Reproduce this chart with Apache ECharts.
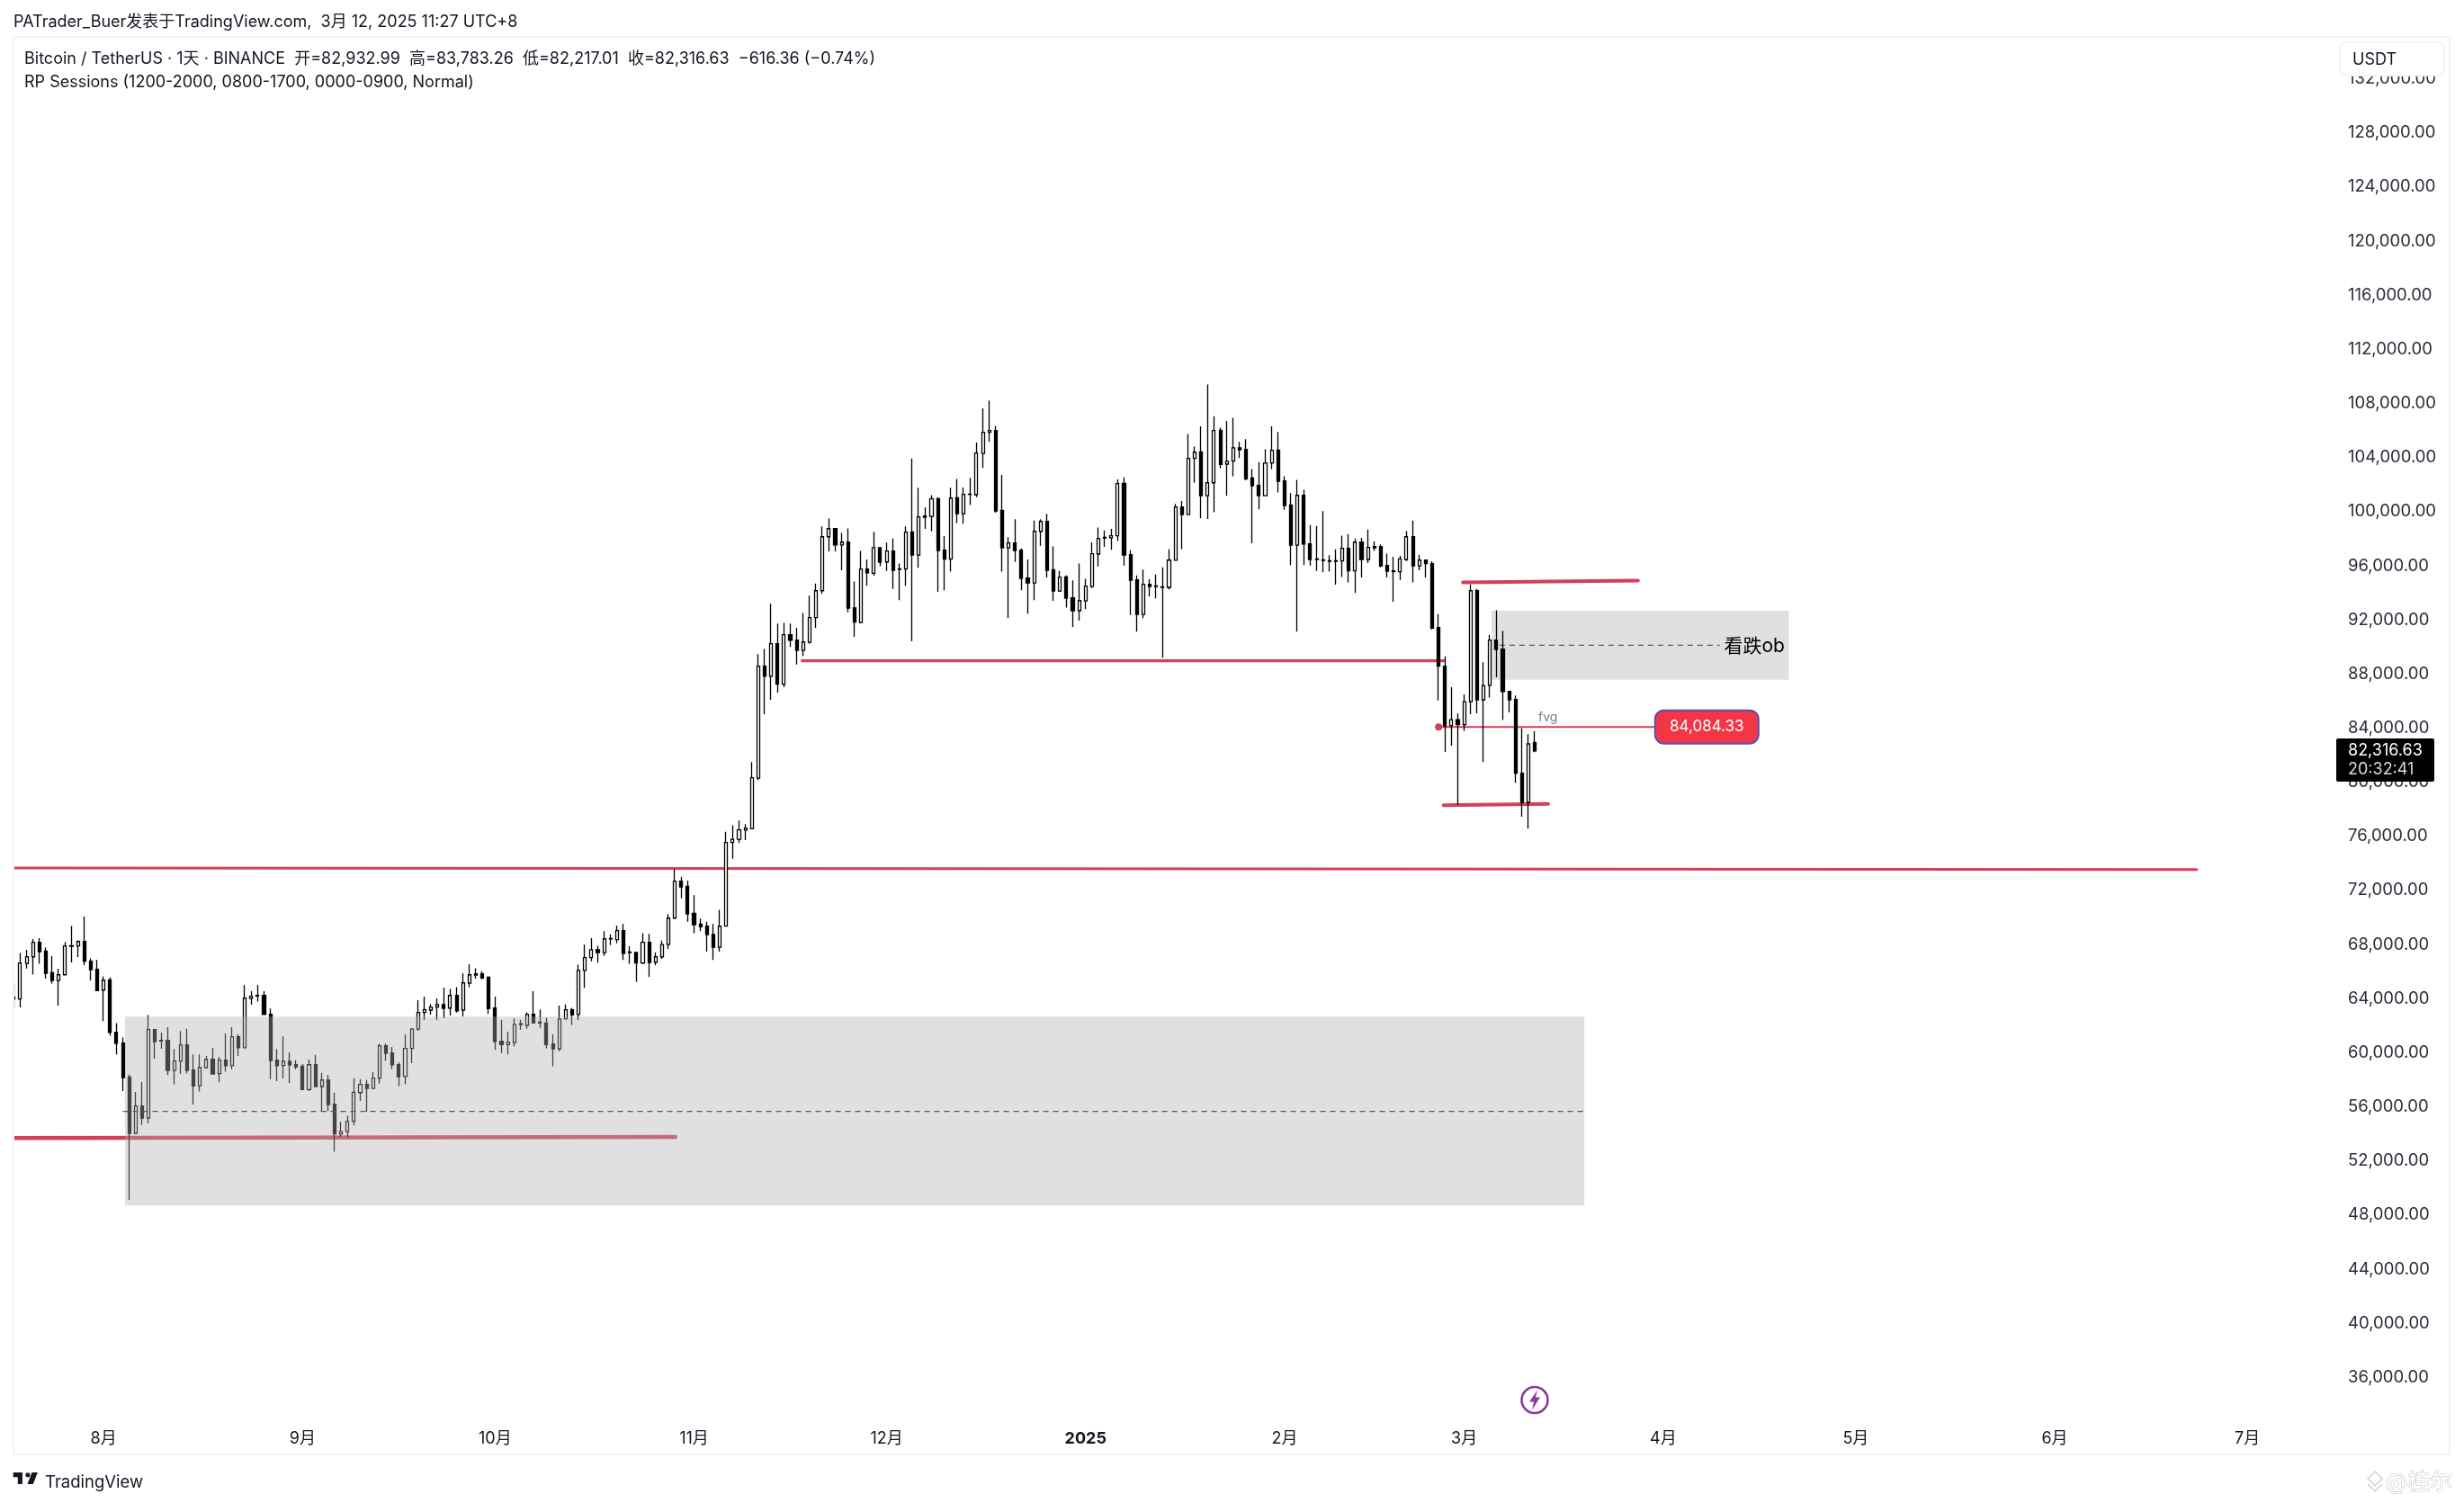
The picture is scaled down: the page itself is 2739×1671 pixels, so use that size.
<!DOCTYPE html>
<html><head><meta charset="utf-8">
<style>html,body{margin:0;padding:0;background:#fff}#c{width:2739px;height:1671px}</style>
<script src="https://cdn.jsdelivr.net/npm/echarts@6/dist/echarts.min.js"></script>
</head><body><div id="c"></div>
<script>
const firstDate='2024-07-18T00:00:00Z';
const opens=[64120,63970,66600,67090,68160,67510,65920,65340,65760,67870,
67890,68220,66760,66160,64630,65390,61510,60710,58210,54040,
56060,55170,61710,60910,60910,58690,59380,60580,58720,57560,
58890,59510,58450,59450,59050,61180,60360,64010,64190,64230,
62840,59450,59050,59360,59110,59000,57280,59110,57500,57980,
56190,54000,54170,54930,57050,57650,57360,58120,60510,59980,
59110,58250,60310,61750,62970,63150,63370,63550,63300,64230,
63150,65140,65830,65830,65590,63300,60840,60600,60750,62080,
62020,62840,62260,62190,60640,60290,62500,63170,62820,66090,
67030,67620,67400,68420,68360,69020,67400,67420,66630,68160,
66690,67090,68000,69950,72680,72300,70300,69510,69350,68750,
67800,69360,75540,75780,76450,76560,80300,88570,87820,90230,
87240,90900,90500,89740,90340,92160,94150,98140,98740,97540,
97740,92890,91800,95750,95440,97340,96280,97080,95730,95750,
98500,96790,99670,99650,100960,97150,96480,101020,99850,101270,
101250,104300,105860,105990,100090,97320,97680,97150,95090,94730,
98540,99270,95700,94130,95170,93620,92670,93400,94460,96860,
98050,98060,98210,102090,96810,94950,92400,94620,94460,94440,
94400,96400,100340,99780,103930,104410,101180,102130,106010,103510,
103730,104720,104590,102490,101930,101180,103590,104550,102270,100490,
97520,101200,97610,96460,96440,96370,96330,96350,97280,95620,
97740,96460,97410,97410,96020,95620,95550,96460,98140,95990,
96410,96150,91430,88570,84180,84620,84250,85950,94150,86090,
87150,90500,89830,86710,86110,80660,78510,82932.99];
const highs=[65140,67380,67600,68400,68470,67780,67140,66210,68180,69370,
68310,70060,66980,66850,65650,65560,62190,61130,58380,57100,
57830,62790,61750,61490,61880,60270,61600,61770,59870,59870,
59760,60360,59670,61420,61880,61370,64990,64540,64990,64540,
63260,60270,61200,60020,59450,59160,59490,59850,58520,58340,
57050,54900,55350,58120,58050,57980,58580,60670,60670,60420,
59270,61350,61820,63880,64140,63590,64010,64810,64720,64850,
65870,66540,66250,66030,65650,64140,62420,61550,62530,62440,
62990,64540,63190,62590,61350,63480,63570,63320,66510,67980,
68470,67910,68980,68750,69400,69510,67870,67420,68840,68780,
67420,68290,70240,73560,73010,72720,71640,69910,69680,69510,
70570,76340,76820,77160,76890,81480,89460,89850,93180,91720,
91780,91720,91410,92510,93780,94690,98900,99490,98740,98430,
98760,94840,97100,96460,98500,97340,97700,98010,96170,98900,
103930,101760,100310,101220,101050,98190,101760,102420,101780,102490,
105100,107630,108200,106340,102710,98100,99430,97280,96460,99340,
99430,99830,97430,95620,95280,94910,96170,95040,97720,98830,
98610,98720,102380,102530,97150,95280,95710,95000,95350,95880,
97230,100560,100780,105740,104810,106300,109400,107050,106210,106700,
106940,105150,105350,103150,103660,104610,106300,105880,102620,101360,
102350,101620,99010,98940,100030,96770,97210,98230,98340,98010,
98050,98680,97790,97570,96900,96660,96730,98560,99340,96810,
96410,96330,92420,89300,87020,85070,86490,94620,94290,88860,
90900,92710,91180,86710,86400,84000,83540,83783.26];
const lows=[63260,63350,66230,65780,66580,65470,65120,63480,65740,66670,
67070,66470,65340,64540,62330,61260,59870,57160,49120,54040,
54660,54790,59560,60290,58340,57670,58430,58470,56170,57140,
58830,58380,57810,58600,58780,59760,60360,63550,63790,62820,
58050,57900,58120,57760,58780,57280,57160,57450,55640,55680,
52670,53770,53730,54620,56430,55640,57360,57720,59400,58780,
57540,57670,59230,61620,62420,62820,62420,62550,62750,62970,
62680,64850,65470,65430,62860,60200,59980,59870,60470,61710,
61770,62150,61840,60330,59000,60110,62480,62060,62420,64790,
66760,66650,67160,67960,68090,66850,66580,65250,66540,65590,
66450,66940,67650,69890,71410,69680,68840,68980,67470,66850,
67470,69350,74340,75500,75720,76510,80150,85020,86090,86620,
87020,89990,88700,89320,90250,91410,93910,97060,97060,95660,
92560,90740,91740,94510,95260,95970,95620,94290,93450,94510,
90410,95840,98720,98540,94070,94180,95570,99160,99100,100490,
101070,103220,105150,99920,95570,92120,96280,94180,92450,93450,
97480,95130,93400,94070,92910,91470,91940,92780,94350,95950,
97390,97170,97830,96020,92380,91120,92120,93730,93580,89190,
94240,96370,97230,99780,102130,99500,99450,99960,103200,101160,
102620,103950,102310,97660,100160,101180,103150,101420,100140,96040,
91120,96040,96020,95620,95510,95570,94600,95170,94770,93980,
95130,96190,97100,95880,95130,93330,94950,96350,94770,95660,
95110,91290,86040,82230,82700,78330,83780,85020,85090,81480,
86260,87750,84600,85160,79950,77440,76560,82217.01];
const closes=[63950,66630,67090,68160,67470,65870,65340,65760,67890,67910,
68220,66760,66140,64590,65360,61490,60690,58160,54040,56060,
55170,61710,60820,60870,58690,59380,60580,58690,57540,58910,
59510,58430,59450,59030,61180,60360,64030,64170,64230,62820,
59420,59030,59360,59090,58960,57280,59110,57500,57980,56170,
54000,54170,54930,57080,57650,57360,58120,60510,59960,59110,
58230,60310,61750,62970,63170,63370,63550,63280,64230,63100,
65160,65760,65740,65520,63260,60820,60600,60780,62080,62150,
62820,62190,62190,60600,60290,62500,63170,62790,66090,67030,
67620,67400,68420,68440,69020,67340,67450,66630,68160,66670,
67090,68000,69950,72680,72250,70260,69460,69310,68730,67800,
69350,75540,75780,76470,76600,80330,88570,87820,90230,87240,
90900,90480,89740,90360,92160,94150,98140,98740,97540,97740,
92870,91830,95750,95480,97340,96260,97080,95660,95770,98480,
96790,99610,99580,100940,97120,96480,101000,99850,101270,101290,
104330,105860,105990,100050,97320,97680,97120,95060,94730,98540,
99270,95660,94130,95150,93600,92670,93420,94490,96880,98010,
98100,98210,102070,96790,94930,92400,94620,94460,94510,94400,
96410,100340,99780,103930,104390,101180,102130,105990,103480,103730,
104720,104570,102420,101910,101180,103590,104530,102240,100450,97520,
101200,97610,96460,96500,96390,96330,96370,97280,95620,97740,
96460,97350,97320,95970,95590,95550,96500,98140,95990,96410,
96150,91380,88570,84160,84620,84250,85950,94150,86090,87150,
90500,89810,86690,86090,80660,78510,82830,82316.63];

const monthTicks=['2024-08-01','2024-09-01','2024-10-01','2024-11-01','2024-12-01','2025-01-01','2025-02-01','2025-03-01','2025-04-01','2025-05-01','2025-06-01','2025-07-01'];
const monthLabels=['8月','9月','10月','11月','12月','2025','2月','3月','4月','5月','6月','7月'];

const bigBox=['2024-08-04T08:00:00Z','2025-03-19T17:00:00Z',62660,48700];
const bigBoxMid=['2024-08-04T00:00:00Z','2025-03-19T17:00:00Z',55657];
const obBox=['2025-03-05T06:00:00Z','2025-04-20T14:00:00Z',92668,87572];
const obBoxMid=['2025-03-06T12:00:00Z','2025-04-09T19:00:00Z',90120];
const redLines=[
 {from:['2024-07-18T00:00:00Z',73660],to:['2025-06-23T03:00:00Z',73540]},
 {from:['2024-07-18T00:00:00Z',53700],to:['2024-10-29T02:00:00Z',53773]},
 {from:['2024-11-17T20:00:00Z',88969],to:['2025-02-25T19:00:00Z',88969]},
 {from:['2025-02-28T19:00:00Z',94774],to:['2025-03-28T02:00:00Z',94906]},
 {from:['2025-02-25T19:00:00Z',78286],to:['2025-03-14T02:00:00Z',78397]},
 {from:['2025-02-25T00:00:00Z',84084.33],to:['2025-03-30T14:00:00Z',84084.33]}
];
const fvgDot=['2025-02-25T00:00:00Z',84084.33];
const notes=[
 {at:['2025-04-15T05:00:00Z',90005],text:'看跌ob',kind:'ob'},
 {at:['2025-03-14T01:00:00Z',84800],text:'fvg',kind:'fvg'},
 {at:['2025-04-07T19:00:00Z',84084.33],text:'84,084.33',kind:'price'}
];

const DAY=86400000, t=s=>Date.parse(s);
const FONT='Inter, "Noto Sans CJK SC", sans-serif';
const AUG1=t('2024-08-01T00:00:00Z');
const xMin=AUG1-14.04*DAY, xMax=AUG1+348.99*DAY;
const candleData=opens.map((o,i)=>[t(firstDate)+i*DAY,o,closes[i],lows[i],highs[i]]);
const RED='#d4405a';
const redWidths=[3,4.5,3.2,4,4,2];

const labelFor={};monthTicks.forEach((d,i)=>labelFor[t(d+'T00:00:00Z')]=monthLabels[i]);

const chart=echarts.init(document.getElementById('c'),null,{width:2739,height:1671,renderer:'canvas'});
const areaSeries=(name,b,z)=>({name,type:'line',data:[],silent:true,
  markArea:{silent:true,z,itemStyle:{color:z>3?'rgba(174,174,178,0.39)':'#e0e0e2',borderWidth:0},
    data:[[{coord:[t(b[0]),b[2]]},{coord:[t(b[1]),b[3]]}]]}});
const dash=(m,z)=>({type:'line',z,silent:true,showSymbol:false,
  data:[[t(m[0]),m[2]],[t(m[1]),m[2]]],lineStyle:{color:'#5a5a60',width:1.2,type:[6,5]}});

chart.setOption({
 animation:false,backgroundColor:'#fff',
 grid:{left:15,right:134,top:87.5,height:1504,containLabel:false},
 xAxis:{type:'value',scale:true,min:xMin,max:xMax,splitLine:{show:false},axisLine:{show:false},axisTick:{show:false},
  axisLabel:{customValues:monthTicks.map(d=>t(d+'T00:00:00Z')),margin:-1,hideOverlap:false,color:'#131722',
    fontFamily:FONT,fontSize:18,
    formatter:v=>{const s=labelFor[v]||'';return s==='2025'?'{b|2025}':s;},
    rich:{b:{fontFamily:FONT,fontSize:18,fontWeight:700,color:'#131722'}}}},
 yAxis:{type:'value',position:'right',min:32000,max:132000,interval:4000,
  splitLine:{show:false},axisLine:{show:false},axisTick:{show:false},
  axisLabel:{margin:5,color:'#2a2e39',fontFamily:FONT,fontSize:18.5,align:'left',
    formatter:v=>v===32000?'':v.toLocaleString('en-US',{minimumFractionDigits:2,maximumFractionDigits:2})}},
 series:[
  areaSeries('ob',obBox,1),
  dash(obBoxMid,2),
  ...redLines.map((l,i)=>({type:'line',z:2,silent:true,showSymbol:false,
     data:[[t(l.from[0]),l.from[1]],[t(l.to[0]),l.to[1]]],
     lineStyle:{color:RED,width:redWidths[i],cap:'round'}})),
  {type:'scatter',z:2,silent:true,symbolSize:8,itemStyle:{color:RED,opacity:1},data:[[t(fvgDot[0]),fvgDot[1]]]},
  {type:'candlestick',z:3,barWidth:3.6,clip:true,encode:{x:0,y:[1,2,3,4]},data:candleData,
   itemStyle:{color:'#fff',color0:'#000',borderColor:'#000',borderColor0:'#000',borderColorDoji:'#000',borderWidth:1.3}},
  areaSeries('big',bigBox,5),
  dash(bigBoxMid,6),
  {type:'scatter',z:7,silent:true,symbolSize:1,itemStyle:{color:'rgba(0,0,0,0)',opacity:1},
   data:notes.map(n=>({value:[t(n.at[0]),n.at[1]],
     label:n.kind==='ob'?{show:true,position:'inside',formatter:n.text,fontFamily:FONT,fontSize:21,color:'#000'}:
       n.kind==='fvg'?{show:true,position:'inside',formatter:n.text,fontFamily:FONT,fontSize:14,color:'#787b86'}:
       {show:true,position:'inside',formatter:n.text,fontFamily:FONT,fontSize:17,color:'#fff',
        backgroundColor:'#f23645',borderColor:'#5b4db5',borderWidth:2,borderRadius:9,
        width:113,height:35,lineHeight:35,align:'center',verticalAlign:'middle'}}))}
 ],
 graphic:{elements:[
  {type:'rect',z:50,shape:{x:0,y:41,width:14.6,height:1576},style:{fill:'#fff'}},
  {type:'rect',z:51,shape:{x:15,y:41,width:2708,height:1576},style:{fill:'none',stroke:'#f0f3fa',lineWidth:2}},
  {type:'text',z:100,x:15,y:25,style:{text:'PATrader_Buer发表于TradingView.com,  3月 12, 2025 11:27 UTC+8',font:'18px '+FONT,fill:'#131722',verticalAlign:'middle'}},
  {type:'text',z:100,x:27,y:66,style:{text:'Bitcoin / TetherUS · 1天 · BINANCE  开=82,932.99  高=83,783.26  低=82,217.01  收=82,316.63  −616.36 (−0.74%)',font:'18px '+FONT,fill:'#131722',verticalAlign:'middle'}},
  {type:'text',z:100,x:27,y:91.5,style:{text:'RP Sessions (1200-2000, 0800-1700, 0000-0900, Normal)',font:'18px '+FONT,fill:'#131722',verticalAlign:'middle'}},
  {type:'rect',z:100,shape:{x:2601,y:47,width:116,height:37,r:6},style:{fill:'#fff',stroke:'#f0f3fa',lineWidth:2}},
  {type:'text',z:101,x:2615,y:66.5,style:{text:'USDT',font:'18px '+FONT,fill:'#131722',verticalAlign:'middle'}},
  {type:'rect',z:100,shape:{x:2597,y:821,width:109,height:48,r:2},style:{fill:'#000'}},
  {type:'text',z:101,x:2610,y:834.5,style:{text:'82,316.63',font:'18px '+FONT,fill:'#fff',verticalAlign:'middle'}},
  {type:'text',z:101,x:2610,y:856,style:{text:'20:32:41',font:'18px '+FONT,fill:'#d8d8d8',verticalAlign:'middle'}},
  {type:'circle',z:100,shape:{cx:1706,cy:1556.5,r:14.5},style:{fill:'#fff',stroke:'#8e3a9d',lineWidth:2.6}},
  {type:'polygon',z:101,shape:{points:[[1709,1545.5],[1700,1558.5],[1705,1558.5],[1703,1567.5],[1712,1553.5],[1707,1553.5]]},style:{fill:'#8e3a9d'}},
  {type:'polygon',z:100,shape:{points:[[14.7,1637.1],[24.9,1637.1],[24.9,1649.9],[19.8,1649.9],[19.8,1642.2],[14.7,1642.2]]},style:{fill:'#131722'}},
  {type:'polygon',z:100,shape:{points:[[36.8,1649.9],[41.9,1637.1],[35.5,1637.1],[30.4,1649.9]]},style:{fill:'#131722'}},
  {type:'circle',z:100,shape:{cx:30.85,cy:1639.7,r:2.55},style:{fill:'#131722'}},
  {type:'text',z:100,x:50,y:1648.5,style:{text:'TradingView',font:'18.5px '+FONT,fill:'#131722',verticalAlign:'middle'}},
  {type:'polygon',z:100,shape:{points:[[2632,1644],[2640,1636],[2648,1644],[2640,1652]]},style:{fill:'none',stroke:'#c8c8c8',lineWidth:1.2}},
  {type:'polyline',z:100,shape:{points:[[2632,1650],[2640,1658],[2648,1650]]},style:{fill:'none',stroke:'#c8c8c8',lineWidth:1.2}},
  {type:'text',z:100,x:2652,y:1648,style:{text:'@桂尔',font:'25px '+FONT,fill:'#fff',stroke:'#c0c0c0',lineWidth:1,verticalAlign:'middle'}}
 ]}
});
</script></body></html>
